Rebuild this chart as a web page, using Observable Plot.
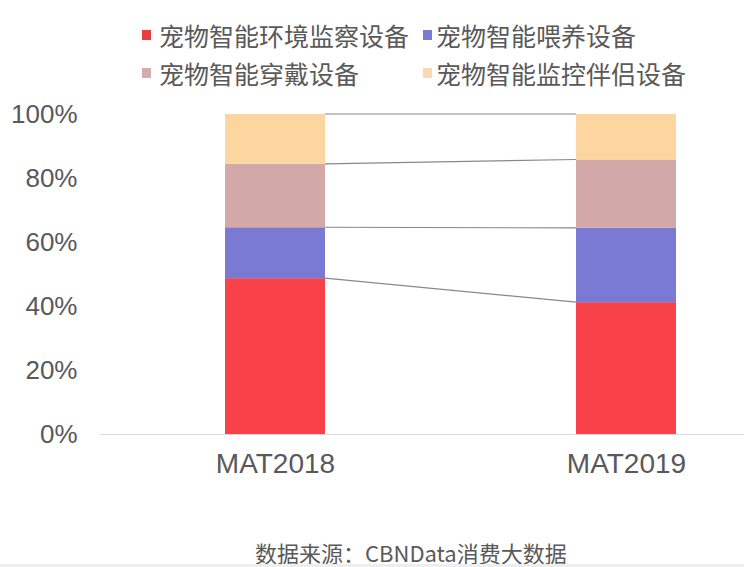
<!DOCTYPE html>
<html>
<head>
<meta charset="utf-8">
<script src="https://cdn.jsdelivr.net/npm/d3@7"></script>
<script src="https://cdn.jsdelivr.net/npm/@observablehq/plot@0.6"></script>
<style>
  html, body { margin: 0; padding: 0; background: #fff; }
  #wrap { position: relative; width: 744px; height: 567px; overflow: hidden; font-family: "Noto Sans CJK SC", "Liberation Sans", sans-serif; color: #595959; }
  #legend { position: relative; height: 96px; }
  .item { position: absolute; display: flex; align-items: center; font-size: 25px; line-height: 30px; white-space: nowrap; }
  .sw { width: 9px; height: 10px; }
  #chart { position: absolute; left: 0; top: 96px; }
  #caption { position: absolute; left: 255px; top: 540px; white-space: nowrap; font-size: 22px; line-height: 24px; font-family: "Noto Sans CJK SC", "Liberation Sans", sans-serif; }
  #bottom { position: absolute; left: 0; bottom: 0; width: 744px; height: 3px; background: #eeeeee; }
</style>
</head>
<body>
<div id="wrap">
  <div id="legend"></div>
  <div id="chart"></div>
  <div id="caption"></div>
  <div id="bottom"></div>
</div>
<script>
// ---- data ----
const years = ["MAT2018", "MAT2019"];
const seriesNames = ["宠物智能环境监察设备", "宠物智能喂养设备", "宠物智能穿戴设备", "宠物智能监控伴侣设备"];
const envMonitor = [48.7, 41.2];   // 宠物智能环境监察设备
const feeding = [15.9, 23.2];      // 宠物智能喂养设备
const wearable = [19.8, 21.4];     // 宠物智能穿戴设备
const companion = [15.6, 14.2];    // 宠物智能监控伴侣设备
const yTicks = [0, 20, 40, 60, 80, 100];
const colors = ["#F9414A", "#7A7AD4", "#D3A8A8", "#FCD5A1"];
const legendColors = ["#E93C42", "#7B7BD1", "#D4ACAC", "#F8D9B1"];
const captionText = "数据来源：CBNData消费大数据";

const seriesValues = [envMonitor, feeding, wearable, companion];
const rows = [];
seriesNames.forEach((s, si) => years.forEach((yr, yi) => rows.push({series: s, year: yr, value: seriesValues[si][yi]})));

// ---- legend ----
const legendPos = [[142, 20, 8], [423, 20, 4], [142, 58, 8], [423, 58, 4]];
const legend = document.getElementById("legend");
seriesNames.forEach((s, i) => {
  const d = document.createElement("div");
  d.className = "item";
  d.style.left = legendPos[i][0] + "px";
  d.style.top = legendPos[i][1] + "px";
  d.innerHTML = `<span class="sw" style="background:${legendColors[i]};margin-right:${legendPos[i][2]}px"></span><span>${s}</span>`;
  legend.appendChild(d);
});
document.getElementById("caption").textContent = captionText;

// ---- connectors (custom mark using Plot's scales) ----
function connectors(index, scales) {
  const x = scales.x, y = scales.y;
  const bw = typeof x.bandwidth === "function" ? x.bandwidth() : x.bandwidth;
  const g = d3.create("svg:g").attr("stroke", "#888888").attr("stroke-width", 1.1).attr("fill", "none");
  let c0 = 0, c1 = 0;
  seriesValues.forEach(v => {
    c0 += v[0]; c1 += v[1];
    g.append("line")
      .attr("x1", x(years[0]) + bw).attr("y1", y(c0))
      .attr("x2", x(years[1])).attr("y2", y(c1));
  });
  return g.node();
}

const chart = Plot.plot({
  width: 744,
  height: 400,
  marginTop: 18,
  marginBottom: 62,
  marginLeft: 100,
  marginRight: 0,
  style: {fontFamily: "'Liberation Sans', 'Noto Sans CJK SC', sans-serif", color: "#595959", background: "transparent"},
  x: {type: "band", domain: years, range: [100, 802], paddingInner: 0.715, paddingOuter: 0.3575},
  y: {domain: [0, 100]},
  color: {domain: seriesNames, range: colors},
  marks: [
    Plot.barY(rows, {x: "year", y: "value", fill: "series"}),
    connectors,
    Plot.ruleY([0], {stroke: "#d9d9d9", strokeWidth: 1.2}),
    Plot.axisY({ticks: yTicks, tickFormat: d => d + "%", tickSize: 0, tickPadding: 23, fontSize: 26, label: null}),
    Plot.axisX({tickSize: 0, tickPadding: 19, fontSize: 28, label: null})
  ]
});
document.getElementById("chart").appendChild(chart);
</script>
</body>
</html>
